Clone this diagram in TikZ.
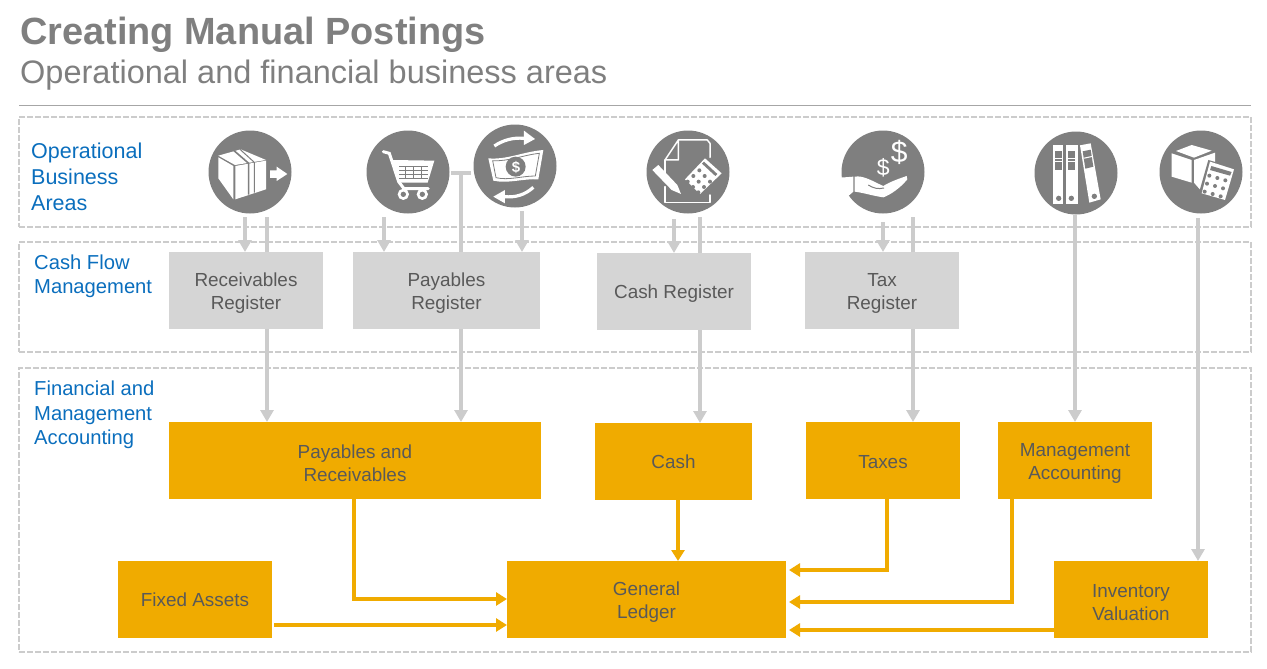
\documentclass[tikz,border=0pt]{standalone}
\usepackage{fontspec}
\setmainfont{Liberation Sans}
\usetikzlibrary{arrows.meta,calc}

\definecolor{sapGold}{HTML}{F0AB00}
\definecolor{sapBlue}{HTML}{0A6EBD}
\definecolor{sapGrey}{HTML}{7F7F7F}
\definecolor{sapRule}{HTML}{A6A6A6}
\definecolor{sapLine}{HTML}{CCCCCC}
\definecolor{sapBox}{HTML}{D5D5D5}
\definecolor{sapText}{HTML}{595959}
\newcommand{\firstLine}{\rule{0pt}{19pt}}
\newcommand{\onlyLine}{\rule{0pt}{17pt}}

\begin{document}
\begin{tikzpicture}
[x=1pt,y=-1pt,
  zoneDecorate/.style={draw=sapLine,line width=1.4pt,dash pattern=on 6pt off 2pt},%
  greyBox/.style={shape=rectangle,fill=sapBox,text=sapText,inner sep=0pt,outer sep=0pt,align=center,font=\fontsize{18.9}{23}\selectfont},%
  goldBox/.style={greyBox,fill=sapGold},%
  zoneLabel/.style={anchor=north west,inner sep=0pt,align=left,text=sapBlue},%
  discDecorate/.style={shape=circle,fill=sapGrey,inner sep=0pt,minimum size=83pt,outer sep=0pt},%
  greyLine/.style={draw=sapLine,line width=4.2pt},%
  greyArrow/.style={greyLine,-{Triangle[width=13pt,length=12pt]}},%
  goldLine/.style={draw=sapGold,line width=4.2pt,line join=miter},%
  goldArrow/.style={goldLine,-{Triangle[width=13pt,length=11pt]}},%
  iconWhite/.style={fill=white,draw=none},%
  iconGrey/.style={fill=sapGrey,draw=none},%
  iconStroke/.style={draw=white,line width=1.5pt,line join=round,line cap=round}]
\useasboundingbox (0,0) rectangle (1267,669);

%% title
\node (title) at (20,45) [anchor=base west,inner sep=0pt,text=sapGrey,font=\fontsize{37.9}{40}\selectfont\bfseries] {Creating Manual Postings};
\node (subtitle) at (20,84) [anchor=base west,inner sep=0pt,text=sapGrey,font=\fontsize{32.5}{36}\selectfont] {Operational and financial business areas};
\coordinate (ruleLeft) at (19,105);
\coordinate (ruleRight) at (1251,105);
\draw[sapRule,line width=0.8pt] (ruleLeft) -- (ruleRight);

%% dashed zones
\foreach \nodename/\y/\h in {zoneOps/117/110, zoneCash/242/110, zoneFin/368/284}
{
  \node (\nodename) at (19,\y) [anchor=north west,minimum width=1232pt,minimum height=\h pt,inner sep=0pt,outer sep=0pt,zoneDecorate] {};
}

%% zone labels
\node (labelOps) at (31,143) [zoneLabel,font=\fontsize{21.5}{26}\selectfont] {Operational\\Business\\Areas};
\node (labelCash) at (34,255) [zoneLabel,font=\fontsize{20.2}{24}\selectfont] {Cash Flow\\Management};
\node (labelFin) at (34,381) [zoneLabel,font=\fontsize{20.2}{24.5}\selectfont] {Financial and\\Management\\Accounting};

%% grey registers
\foreach \nodename/\x/\y/\w/\txt in {regReceive/246/290.5/154/{\firstLine Receivables\\Register}, regPay/446.5/290.5/187/{\firstLine Payables\\Register}, regCash/674/291.5/154/{\onlyLine Cash Register}, regTax/882/290.5/154/{\firstLine Tax\\Register}}
{
  \node (\nodename) at (\x,\y) [greyBox,minimum width=\w pt,minimum height=77pt] {\txt};
}
%% gold boxes
\foreach \nodename/\x/\y/\w/\txt in {payRec/355/460.5/372/{\firstLine Payables and\\Receivables}, cash/673.5/461.5/157/{Cash}, taxes/883/460.5/154/{\onlyLine Taxes}, mgmt/1075/460.5/154/{\firstLine Management\\Accounting}, assets/195/599.5/154/{Fixed Assets}, ledger/646.5/599.5/279/{\firstLine General\\Ledger}, inventory/1131/599.5/154/{\firstLine Inventory\\Valuation}}
{
  \node (\nodename) at (\x,\y) [goldBox,minimum width=\w pt,minimum height=77pt] {\txt};
}

%% icon discs
\foreach \nodename/\x/\y in {icoBox/250/172, icoCart/408/172, icoMoney/515/166, icoDoc/688/172, icoHand/883/172, icoFile/1076/173, icoStock/1201/172}
{
  \node (\nodename) at (\x,\y) [discDecorate] {};
}

%% box with arrow
\begin{scope}[shift={(160,110)},scale=1/3]
  \fill[iconWhite] (175,137) -- (242,118) -- (318,150) -- (225,165) -- cycle;
  \fill[iconWhite] (175,142) -- (220,168) -- (220,268) -- (175,205) -- cycle;
  \fill[iconWhite] (226,168) -- (318,152) -- (318,238) -- (226,268) -- cycle;
  \draw[sapGrey,line width=1.6pt] (222,122) -- (266,160) -- (266,254);
  \draw[sapGrey,line width=1pt] (240,118) -- (283,157) -- (283,248);
  \fill[iconWhite] (330,181) -- (350,181) -- (350,170) -- (382,192) -- (350,213) -- (350,204) -- (330,204) -- cycle;
\end{scope}

%% cart
\begin{scope}[shift={(160,110)},scale=1/3]
  \draw[white,line width=3pt,line cap=round] (670,125) -- (688,130) -- (716,215) -- (732,236) -- (805,236);
  \fill[iconWhite] (697,150) -- (823,152) -- (803,218) -- (716,218) -- cycle;
  \foreach \gx in {735,760,785}
    \draw[sapGrey,line width=0.8pt] (\gx,170) -- (\gx,206);
  \foreach \gy in {170,182,194,206}
    \draw[sapGrey,line width=0.8pt] (718,\gy) -- (805,\gy);
  \foreach \wx in {730,787}
  {
    \fill[iconWhite] (\wx,253) circle (17);
    \fill[iconGrey] (\wx,253) circle (8);
  }
\end{scope}

%% banknote with arrows
\begin{scope}[shift={(160,110)},scale=1/3]
  \fill[iconWhite] (985,145) .. controls (1040,150) and (1090,125) .. (1150,120) -- (1135,208) .. controls (1090,205) and (1045,222) .. (1000,212) -- cycle;
  \draw[sapGrey,line width=0.8pt] (998,152) .. controls (1045,155) and (1090,135) .. (1138,130) -- (1126,198) .. controls (1085,198) and (1045,212) .. (1008,203) -- cycle;
  \fill[iconGrey] (1067,170) circle (30);
  \node (moneySign) at (1068,171) [text=white,inner sep=0pt,font=\fontsize{15}{15}\selectfont\bfseries] {\$};
  \draw[white,line width=3.2pt] (1003,108) .. controls (1030,90) and (1060,82) .. (1092,85);
  \fill[iconWhite] (1092,62) -- (1125,87) -- (1092,105) -- cycle;
  \draw[white,line width=3.2pt] (1120,232) .. controls (1095,255) and (1065,263) .. (1035,260);
  \fill[iconWhite] (1035,240) -- (1000,260) -- (1035,280) -- cycle;
\end{scope}

%% document with pencil and calculator
\begin{scope}[shift={(620,110)},scale=1/3]
  \draw[iconStroke] (175,90) -- (262,90) -- (270,100) -- (270,142);
  \draw[iconStroke] (175,90) -- (135,150) -- (175,150) -- cycle;
  \draw[iconStroke] (135,150) -- (135,192);
  \draw[iconStroke] (135,230) -- (135,278) -- (270,278) -- (270,255);
  \fill[iconWhite] (97,180) -- (115,165) -- (172,225) -- (183,252) -- (155,240) -- cycle;
  \fill[iconWhite] (255,145) -- (305,190) -- (240,252) -- (195,208) -- cycle;
  \fill[iconGrey] (252,155) -- (292,192) -- (286,198) -- (246,161) -- cycle;
  \foreach \dx/\dy in {238/178,220/195,203/212,254/195,236/212,219/228,270/212,252/228,235/244}
    \fill[iconGrey] (\dx,\dy+3) circle (6);
\end{scope}

%% hand with coins
\begin{scope}[shift={(620,110)},scale=1/3]
  \fill[iconWhite] (660,203) -- (700,200) -- (700,245) -- (685,258) -- (660,258) -- cycle;
  \fill[iconWhite] (704,200) .. controls (730,195) and (760,215) .. (790,228) .. controls (810,215) and (840,205) .. (860,198) -- (862,208) .. controls (840,235) and (810,255) .. (790,262) .. controls (760,258) and (730,248) .. (704,245) -- cycle;
  \draw[sapGrey,line width=1pt] (745,225) .. controls (760,235) and (775,238) .. (792,234);
  \node (handSignA) at (838,128) [text=white,inner sep=0pt,font=\fontsize{30}{30}\selectfont] {\$};
  \node (handSignB) at (790,172) [text=white,inner sep=0pt,font=\fontsize{23}{23}\selectfont] {\$};
\end{scope}

%% binders
\begin{scope}[shift={(1000,110)},scale=1/3]
  \foreach \fx/\fw in {160/30,198/36}
  {
    \fill[iconWhite] (\fx,105) rectangle ++(\fw,177);
    \fill[iconGrey] (\fx+6,124) rectangle ++(20,55);
    \fill[iconWhite] (\fx+6,143) rectangle ++(20,3);
    \fill[iconWhite] (\fx+6,152) rectangle ++(20,3);
    \fill[iconGrey] (\fx+16,265) circle (8);
  }
  \fill[iconWhite] (240,106) -- (272,100) -- (302,268) -- (268,278) -- cycle;
  \fill[iconGrey] (248,124) -- (272,119) -- (280,170) -- (256,176) -- cycle;
  \fill[iconWhite] (252,143) -- (275,138) -- (276,141) -- (253,146) -- cycle;
  \fill[iconGrey] (283,259) circle (8);
\end{scope}

%% cube with calculator
\begin{scope}[shift={(1000,110)},scale=1/3]
  \fill[iconWhite] (528,123) -- (575,105) -- (635,122) -- (582,143) -- cycle;
  \fill[iconWhite] (515,130) -- (575,150) -- (575,218) -- (515,200) -- cycle;
  \fill[iconWhite] (582,150) -- (645,128) -- (645,175) -- (610,250) -- (582,218) -- cycle;
  \fill[iconGrey] (625,150) -- (712,175) -- (682,280) -- (595,255) -- cycle;
  \fill[iconWhite] (630,155) -- (702,178) -- (675,270) -- (605,250) -- cycle;
  \fill[iconGrey] (634,168) -- (695,186) -- (690,197) -- (630,180) -- cycle;
  \foreach \dx/\dy in {628/197,652/204,676/211,621/221,645/228,669/235,614/245,638/252,662/259}
    \fill[iconGrey] (\dx,\dy) circle (6);
\end{scope}

%% tick coordinates above the registers
\foreach \nodename/\x/\y in {tickA/245/217, tickB/267/217, tickC/384/217, tickD/461/173, tickE/522/211, tickF/674/219, tickG/700/217, tickH/883/222, tickI/913/217, tickJ/1075/215, tickK/1198/218}
{
  \coordinate (\nodename) at (\x,\y);
}
\coordinate (barLeft) at (451,173);
\coordinate (barRight) at (471,173);

%% grey connectors
\path
\foreach \startnode/\endnode in {tickA/regReceive, tickC/regPay, tickE/regPay, tickF/regCash, tickH/regTax}
{
  (\startnode) edge[greyArrow] (\startnode |- \endnode.north)
};
\path
\foreach \startnode/\endnode in {tickB/regReceive, tickD/regPay, tickG/regCash, tickI/regTax}
{
  (\startnode) edge[greyLine] (\startnode |- \endnode.north)
};
\draw[greyLine] (barLeft) -- (barRight);
\path
\foreach \startnode/\midnode/\endnode in {tickB/regReceive/payRec, tickD/regPay/payRec, tickG/regCash/cash, tickI/regTax/taxes}
{
  (\startnode |- \midnode.south) edge[greyArrow] (\startnode |- \endnode.north)
};
\draw[greyArrow] (tickJ) -- (tickJ |- mgmt.north);
\draw[greyArrow] (tickK) -- (tickK |- inventory.north);

%% gold connectors
\coordinate (goldA) at (354,599);
\coordinate (goldB) at (678,500);
\coordinate (goldC) at (887,570);
\coordinate (goldD) at (1012,602);
\coordinate (goldE) at (789,630);
\coordinate (goldF) at (274,625);
\draw[goldArrow] (goldA |- payRec.south) -- (goldA) -- (goldA -| ledger.west);
\draw[goldArrow] (goldB |- cash.south) -- (goldB |- ledger.north);
\draw[goldArrow] (goldC |- taxes.south) -- (goldC) -- (goldE |- goldC);
\draw[goldArrow] (goldD |- mgmt.south) -- (goldD) -- (goldE |- goldD);
\draw[goldArrow] (inventory.west |- goldE) -- (goldE);
\draw[goldArrow] (goldF) -- (goldF -| ledger.west);
\end{tikzpicture}
\end{document}
